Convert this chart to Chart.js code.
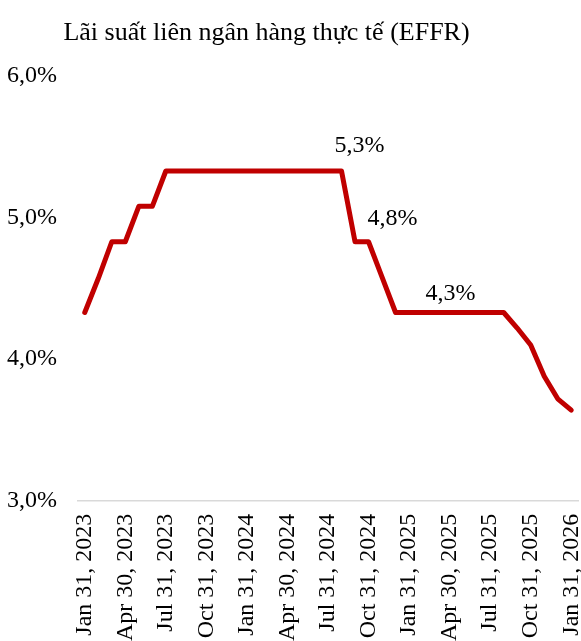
<!DOCTYPE html>
<html>
<head>
<meta charset="utf-8">
<script src="https://cdn.jsdelivr.net/npm/chart.js@4.4.1/dist/chart.umd.min.js"></script>
<style>
  html, body { margin: 0; padding: 0; background: #fff; }
  #wrap { width: 581px; height: 641px; }
</style>
</head>
<body>
<div id="wrap"><canvas id="effr-chart" width="581" height="641"></canvas></div>
<script>
// month-end dates (x categories)
const months = [
    'Jan 31, 2023', 'Feb 28, 2023', 'Mar 31, 2023', 'Apr 30, 2023', 'May 31, 2023', 'Jun 30, 2023',
    'Jul 31, 2023', 'Aug 31, 2023', 'Sep 30, 2023', 'Oct 31, 2023', 'Nov 30, 2023', 'Dec 31, 2023',
    'Jan 31, 2024', 'Feb 29, 2024', 'Mar 31, 2024', 'Apr 30, 2024', 'May 31, 2024', 'Jun 30, 2024',
    'Jul 31, 2024', 'Aug 31, 2024', 'Sep 30, 2024', 'Oct 31, 2024', 'Nov 30, 2024', 'Dec 31, 2024',
    'Jan 31, 2025', 'Feb 28, 2025', 'Mar 31, 2025', 'Apr 30, 2025', 'May 31, 2025', 'Jun 30, 2025',
    'Jul 31, 2025', 'Aug 31, 2025', 'Sep 30, 2025', 'Oct 31, 2025', 'Nov 30, 2025', 'Dec 31, 2025',
    'Jan 31, 2026'
];

// EFFR, %
const effr = [
    4.33, 4.57, 4.83, 4.83, 5.08, 5.08,
    5.33, 5.33, 5.33, 5.33, 5.33, 5.33,
    5.33, 5.33, 5.33, 5.33, 5.33, 5.33,
    5.33, 5.33, 4.83, 4.83, 4.58, 4.33,
    4.33, 4.33, 4.33, 4.33, 4.33, 4.33,
    4.33, 4.33, 4.22, 4.10, 3.88, 3.72,
    3.64
];

// value labels written on the line
const noteMonths = ['Aug 31, 2024', 'Oct 31, 2024', 'Apr 30, 2025'];
const noteTexts = ['5,3%', '4,8%', '4,3%'];

const yTicks = [3, 4, 5, 6];

const FONT = "'Liberation Serif', 'Times New Roman', serif";

// offsets of the notes from their point (px)
const noteOffsets = [[18, -25], [24, -23], [1, -19]];

const notesPlugin = {
    id: 'notes',
    afterLayout(chart) {
        // title sits a bit left of the canvas centre
        chart.titleBlock.left -= 26;
        chart.titleBlock.right -= 26;
    },
    afterDatasetsDraw(chart) {
        const ctx = chart.ctx;
        const xs = chart.scales.x;
        const ys = chart.scales.y;
        ctx.save();
        ctx.font = `24px ${FONT}`;
        ctx.fillStyle = '#000';
        ctx.textAlign = 'center';
        ctx.textBaseline = 'middle';
        noteMonths.forEach((m, i) => {
            const idx = months.indexOf(m);
            const x = xs.getPixelForValue(idx) + noteOffsets[i][0];
            const y = ys.getPixelForValue(effr[idx]) + noteOffsets[i][1];
            ctx.fillText(noteTexts[i], x, y);
        });
        ctx.restore();
    }
};

const CHART = document.getElementById('effr-chart');
let effrChart = new Chart(CHART, {
    type: 'line',
    data: {
        labels: months,
        datasets: [{
            label: 'EFFR',
            data: effr,
            borderColor: '#C00000',
            borderWidth: 5,
            borderJoinStyle: 'round',
            borderCapStyle: 'round',
            pointRadius: 0,
            tension: 0,
            fill: false
        }]
    },
    options: {
        responsive: false,
        animation: false,
        layout: { padding: { left: 7, right: 3, top: 0, bottom: 0 } },
        plugins: {
            legend: { display: false },
            tooltip: { enabled: false },
            title: {
                display: true,
                text: 'Lãi suất liên ngân hàng thực tế (EFFR)',
                color: '#000',
                font: { family: FONT, size: 26, weight: 'normal' },
                padding: { top: 18, bottom: 27 }
            }
        },
        scales: {
            x: {
                offset: true,
                grid: { display: false, drawTicks: false },
                border: { display: true, color: '#d9d9d9', width: 1.5 },
                afterFit: axis => {
                    axis.paddingLeft = 0;
                    axis.paddingRight = 0;
                    axis.height -= axis.options.ticks.padding;
                },
                ticks: {
                    autoSkip: false,
                    maxRotation: 90,
                    minRotation: 90,
                    padding: 13,
                    color: '#000',
                    font: { family: FONT, size: 24 },
                    callback: (v, i) => i % 3 === 0 ? months[i] : ''
                }
            },
            y: {
                min: 3,
                max: 6,
                afterBuildTicks: axis => { axis.ticks = yTicks.map(v => ({ value: v })); },
                afterFit: axis => { axis.width -= axis.options.ticks.padding; },
                grid: { display: false, drawTicks: false },
                border: { display: false },
                ticks: {
                    padding: 21,
                    color: '#000',
                    font: { family: FONT, size: 24 },
                    callback: v => v.toFixed(1).replace('.', ',') + '%'
                }
            }
        }
    },
    plugins: [notesPlugin]
});
</script>
</body>
</html>
